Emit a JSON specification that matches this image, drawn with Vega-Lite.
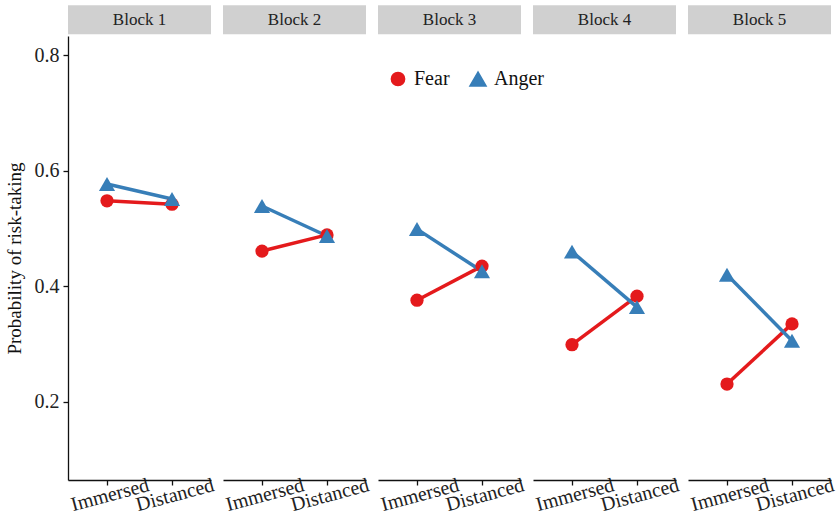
{
  "$schema": "https://vega.github.io/schema/vega-lite/v6.json",
  "padding": {"left": 5, "top": 5, "right": 3, "bottom": 3},
  "background": "white",
  "config": {
    "font": "Liberation Serif",
    "view": {"stroke": null},
    "axis": {"labelFont": "Liberation Serif", "titleFont": "Liberation Serif", "labelColor": "#222", "titleColor": "#111", "domainColor": "#111", "tickColor": "#111", "domainWidth": 1.3, "tickWidth": 1.3, "grid": false, "titleFontWeight": "normal", "tickSize": 5},
    "legend": {"orient": "none", "legendX": 320, "legendY": 33, "direction": "horizontal", "labelFontSize": 20, "labelFont": "Liberation Serif", "columnPadding": 16, "labelColor": "#111", "title": null, "labelOffset": 6}
  },
  "data": {"values": [
    {"block": "Block 1", "cond": "Immersed", "emotion": "Fear", "p": 0.548},
    {"block": "Block 1", "cond": "Distanced", "emotion": "Fear", "p": 0.542},
    {"block": "Block 1", "cond": "Immersed", "emotion": "Anger", "p": 0.577},
    {"block": "Block 1", "cond": "Distanced", "emotion": "Anger", "p": 0.551},
    {"block": "Block 2", "cond": "Immersed", "emotion": "Fear", "p": 0.461},
    {"block": "Block 2", "cond": "Distanced", "emotion": "Fear", "p": 0.489},
    {"block": "Block 2", "cond": "Immersed", "emotion": "Anger", "p": 0.539},
    {"block": "Block 2", "cond": "Distanced", "emotion": "Anger", "p": 0.487},
    {"block": "Block 3", "cond": "Immersed", "emotion": "Fear", "p": 0.376},
    {"block": "Block 3", "cond": "Distanced", "emotion": "Fear", "p": 0.435},
    {"block": "Block 3", "cond": "Immersed", "emotion": "Anger", "p": 0.499},
    {"block": "Block 3", "cond": "Distanced", "emotion": "Anger", "p": 0.426},
    {"block": "Block 4", "cond": "Immersed", "emotion": "Fear", "p": 0.299},
    {"block": "Block 4", "cond": "Distanced", "emotion": "Fear", "p": 0.383},
    {"block": "Block 4", "cond": "Immersed", "emotion": "Anger", "p": 0.46},
    {"block": "Block 4", "cond": "Distanced", "emotion": "Anger", "p": 0.364},
    {"block": "Block 5", "cond": "Immersed", "emotion": "Fear", "p": 0.231},
    {"block": "Block 5", "cond": "Distanced", "emotion": "Fear", "p": 0.335},
    {"block": "Block 5", "cond": "Immersed", "emotion": "Anger", "p": 0.42},
    {"block": "Block 5", "cond": "Distanced", "emotion": "Anger", "p": 0.306}
  ]},
  "facet": {"column": {"field": "block", "type": "nominal", "header": null}},
  "spacing": 12,
  "spec": {
    "width": 143,
    "height": 444,
    "layer": [
      {
        "transform": [{"filter": "datum.emotion == 'Fear' && datum.cond == 'Immersed'"}],
        "mark": {"type": "rect", "color": "#d0d0d0", "clip": false},
        "encoding": {
          "y": {"datum": 0.836, "type": "quantitative", "scale": {"domain": [0.065, 0.833], "nice": false, "zero": false}, "title": "Probability of risk-taking",
                "axis": {"values": [0.2, 0.4, 0.6, 0.8], "format": ".1f", "labelFontSize": 20, "titleFontSize": 19, "labelPadding": 4, "titlePadding": 10}},
          "y2": {"datum": 0.886}
        }
      },
      {
        "transform": [{"filter": "datum.emotion == 'Fear' && datum.cond == 'Immersed'"}],
        "mark": {"type": "text", "fontSize": 17, "font": "Liberation Serif", "color": "#222", "baseline": "middle"},
        "encoding": {
          "y": {"datum": 0.861, "type": "quantitative", "title": "Probability of risk-taking"},
          "text": {"field": "block"}
        }
      },
      {
        "mark": {"type": "line", "strokeWidth": 3.5},
        "encoding": {
          "x": {"field": "cond", "type": "nominal", "sort": ["Immersed", "Distanced"], "scale": {"type": "point", "padding": 0.6}, "title": null,
                "axis": {"labelAngle": -15, "labelAlign": "center", "labelBaseline": "top", "labelFontSize": 20, "labelPadding": 0}},
          "y": {"field": "p", "type": "quantitative", "title": "Probability of risk-taking"},
          "color": {"field": "emotion", "type": "nominal", "scale": {"domain": ["Fear", "Anger"], "range": ["#E41A1C", "#377EB8"]}},
          "detail": {"field": "emotion"}
        }
      },
      {
        "mark": {"type": "point", "filled": true, "opacity": 1},
        "encoding": {
          "x": {"field": "cond", "type": "nominal", "sort": ["Immersed", "Distanced"], "title": null},
          "y": {"field": "p", "type": "quantitative", "title": "Probability of risk-taking"},
          "color": {"field": "emotion", "type": "nominal"},
          "shape": {"field": "emotion", "type": "nominal", "scale": {"domain": ["Fear", "Anger"], "range": ["circle", "triangle-up"]}},
          "size": {"field": "emotion", "type": "nominal", "scale": {"domain": ["Fear", "Anger"], "range": [175, 260]}}
        }
      }
    ]
  }
}
